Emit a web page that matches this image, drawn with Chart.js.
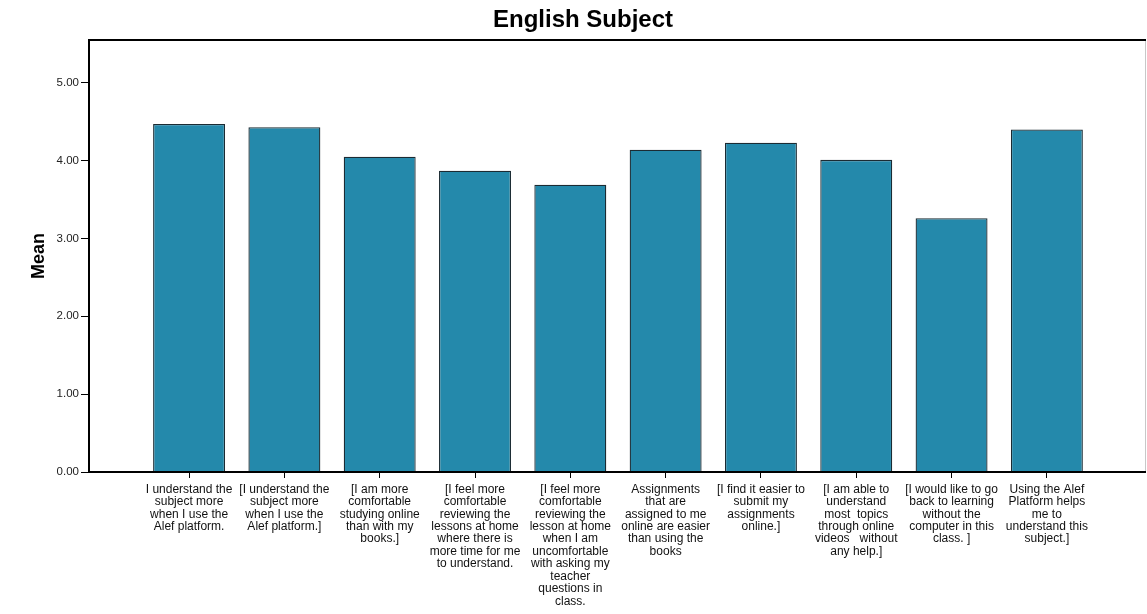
<!DOCTYPE html>
<html>
<head>
<meta charset="utf-8">
<script src="https://cdn.jsdelivr.net/npm/chart.js@4"></script>
<style>
  html, body { margin: 0; padding: 0; background: #fff; }
  #wrap { width: 1147px; height: 614px; }
</style>
</head>
<body>
<div id="wrap"><canvas id="chart" width="1147" height="614"></canvas></div>
<script>
// ===== Data =====
const chartTitle = 'English Subject';
const yTitle = 'Mean';
const categories = [
  ['I understand the', 'subject more', 'when I use the', 'Alef platform.'],
  ['[I understand the', 'subject more', 'when I use the', 'Alef platform.]'],
  ['[I am more', 'comfortable', 'studying online', 'than with my', 'books.]'],
  ['[I feel more', 'comfortable', 'reviewing the', 'lessons at home', 'where there is', 'more time for me', 'to understand.'],
  ['[I feel more', 'comfortable', 'reviewing the', 'lesson at home', 'when I am', 'uncomfortable', 'with asking my', 'teacher', 'questions in', 'class.'],
  ['Assignments', 'that are', 'assigned to me', 'online are easier', 'than using the', 'books'],
  ['[I find it easier to', 'submit my', 'assignments', 'online.]'],
  ['[I am able to', 'understand', 'most  topics', 'through online', 'videos   without', 'any help.]'],
  ['[I would like to go', 'back to learning', 'without the', 'computer in this', 'class. ]'],
  ['Using the Alef', 'Platform helps', 'me to', 'understand this', 'subject.]']
];
const means = [4.47, 4.43, 4.05, 3.87, 3.69, 4.14, 4.23, 4.01, 3.26, 4.40];
const yTicks = [0, 1, 2, 3, 4, 5];

// frame round the plot area
const framePlugin = {
  id: 'frame',
  afterDraw(chart) {
    const { ctx, chartArea: a } = chart;
    ctx.save();
    ctx.strokeStyle = '#c8c8c8';
    ctx.lineWidth = 1;
    ctx.beginPath();
    ctx.moveTo(a.right - 0.5, a.top);
    ctx.lineTo(a.right - 0.5, a.bottom);
    ctx.stroke();
    ctx.strokeStyle = '#000';
    ctx.lineWidth = 2;
    ctx.beginPath();
    ctx.moveTo(a.right, a.top);
    ctx.lineTo(a.left, a.top);
    ctx.lineTo(a.left, a.bottom);
    ctx.lineTo(a.right, a.bottom);
    ctx.stroke();
    ctx.restore();
  }
};

new Chart(document.getElementById('chart'), {
  type: 'bar',
  data: {
    datasets: [{
      data: means.map((m, i) => ({ x: i, y: m })),
      backgroundColor: '#2489AB',
      borderColor: '#1b2b33',
      borderWidth: 1.3,
      barPercentage: 0.755,
      categoryPercentage: 1
    }]
  },
  options: {
    responsive: false,
    animation: false,
    layout: { padding: { left: 20, right: 1, top: 0, bottom: 0 } },
    plugins: {
      legend: { display: false },
      tooltip: { enabled: false },
      title: {
        display: true,
        text: chartTitle,
        color: '#000',
        font: { family: 'Liberation Sans, Arial', size: 24, weight: 'bold', lineHeight: 1.2 },
        padding: { top: 6, bottom: 5.2 }
      }
    },
    scales: {
      x: {
        type: 'linear',
        min: -1.05,
        max: 10.04,
        offset: false,
        afterBuildTicks(s) { s.ticks = categories.map((c, i) => ({ value: i })); },
        afterFit(s) { s.height = 142; },
        grid: { offset: false, drawOnChartArea: false, drawTicks: true, tickLength: 6, color: '#000', lineWidth: 1 },
        border: { display: false },
        ticks: {
          autoSkip: false,
          minRotation: 0,
          maxRotation: 0,
          padding: 5,
          color: '#111',
          font: { family: 'Liberation Sans, Arial', size: 12, lineHeight: 1.04 },
          callback: (v) => categories[v] || ''
        }
      },
      y: {
        min: 0,
        max: 5.55,
        afterBuildTicks(s) { s.ticks = yTicks.map(v => ({ value: v })); },
        afterFit(s) { s.width = 69; },
        grid: { drawOnChartArea: false, drawTicks: true, tickLength: 8, color: '#000', lineWidth: 1 },
        border: { display: false },
        title: {
          display: true,
          text: yTitle,
          color: '#000',
          font: { family: 'Liberation Sans, Arial', size: 18, weight: 'bold' },
          padding: { top: 8, bottom: 0 }
        },
        ticks: {
          padding: 2,
          color: '#222',
          font: { family: 'Liberation Sans, Arial', size: 11.5 },
          callback: (v) => v.toFixed(2)
        }
      }
    }
  },
  plugins: [framePlugin]
});
</script>
</body>
</html>
